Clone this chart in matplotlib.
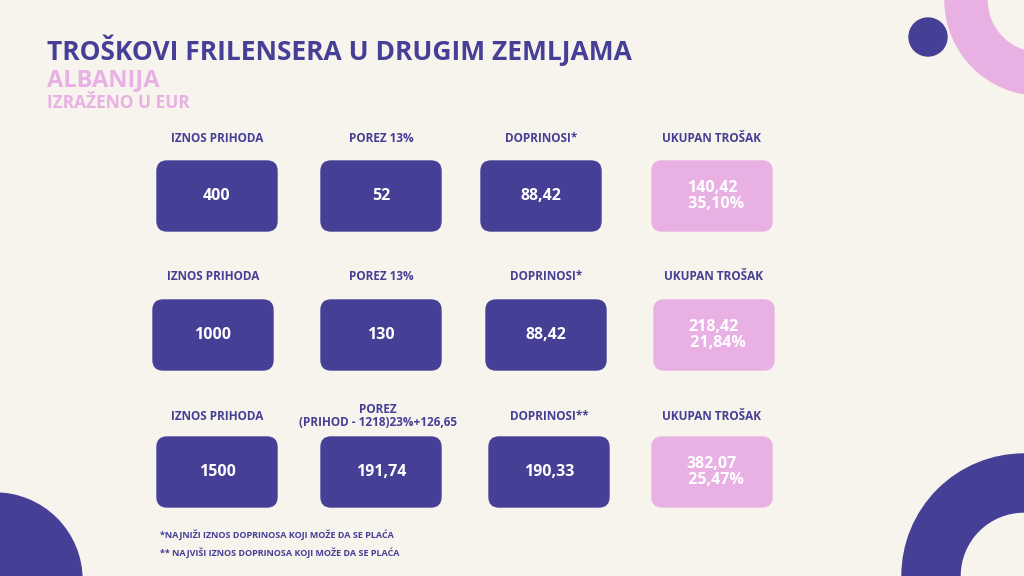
import matplotlib.pyplot as plt
from matplotlib.patches import FancyBboxPatch, Circle, Wedge

bg = '#f7f3ed'
dark = '#463f96'
pink = '#e9b0e4'

# data
incomes = ['400', '1000', '1500']
taxes = ['52', '130', '191,74']
contribs = ['88,42', '88,42', '190,33']
totals = ['140,42', '218,42', '382,07']
shares = ['35,10%', '21,84%', '25,47%']
tax_labels = ['POREZ 13%', 'POREZ 13%', 'POREZ\n(PRIHOD - 1218)23%+126,65']
contrib_labels = ['DOPRINOSI*', 'DOPRINOSI*', 'DOPRINOSI**']

fig = plt.figure(figsize=(10.24, 5.76), dpi=100, facecolor=bg)
ax = fig.add_axes([0, 0, 1, 1])
ax.set_xlim(0, 1024)
ax.set_ylim(576, 0)
ax.axis('off')
ax.set_facecolor(bg)

# decorations (y axis flipped, so angles are mirrored)
ax.add_patch(Circle((928, 37), 19, color=dark))
ax.add_patch(Wedge((1040, 0), 95, 90, 270, width=42, color=pink))
ax.add_patch(Circle((-5, 580), 87, color=dark))
ax.add_patch(Wedge((1024, 576), 122, 180, 270, width=58, color=dark))

ax.text(47, 50, 'TROŠKOVI FRILENSERA U DRUGIM ZEMLJAMA', color=dark, fontsize=19,
        fontweight='bold', va='center', family='Open Sans')
ax.text(47, 80, 'ALBANIJA', color=pink, fontsize=17, fontweight='bold', va='center', family='Open Sans')
ax.text(47, 103, 'IZRAŽENO U EUR', color=pink, fontsize=12.5, fontweight='bold', va='center', family='Open Sans')

rows_y = [161, 300, 437]
label_y = [138, 277, 416]
cols_x = [[157, 321, 481, 652], [153, 321, 486, 654], [157, 321, 489, 652]]
w, h = 120, 70

for i in range(3):
    labels = ['IZNOS PRIHODA', tax_labels[i], contrib_labels[i], 'UKUPAN TROŠAK']
    vals = [incomes[i], taxes[i], contribs[i], totals[i] + '\n  ' + shares[i]]
    for j in range(4):
        x = cols_x[i][j]
        c = pink if j == 3 else dark
        ax.add_patch(FancyBboxPatch((x + 10, rows_y[i] + 10), w - 20, h - 20,
                                    boxstyle='round,pad=10', color=c))
        ax.text(x + w / 2, rows_y[i] + h / 2, vals[j],
                color='white', fontsize=11.5, fontweight='bold', ha='center', va='center',
                family='Open Sans', linespacing=1.0)
        ax.text(x + w / 2 - (3 if j == 1 and i == 2 else 0), label_y[i], labels[j],
                color=dark, fontsize=8.5, fontweight='bold', ha='center', va='center',
                family='Open Sans', linespacing=1.0)

ax.text(160, 535, '*NAJNIŽI IZNOS DOPRINOSA KOJI MOŽE DA SE PLAĆA', color=dark,
        fontsize=6.5, fontweight='bold', va='center', family='Open Sans')
ax.text(160, 553, '** NAJVIŠI IZNOS DOPRINOSA KOJI MOŽE DA SE PLAĆA', color=dark,
        fontsize=6.5, fontweight='bold', va='center', family='Open Sans')

fig.savefig('out.png', dpi=100, facecolor=bg)
